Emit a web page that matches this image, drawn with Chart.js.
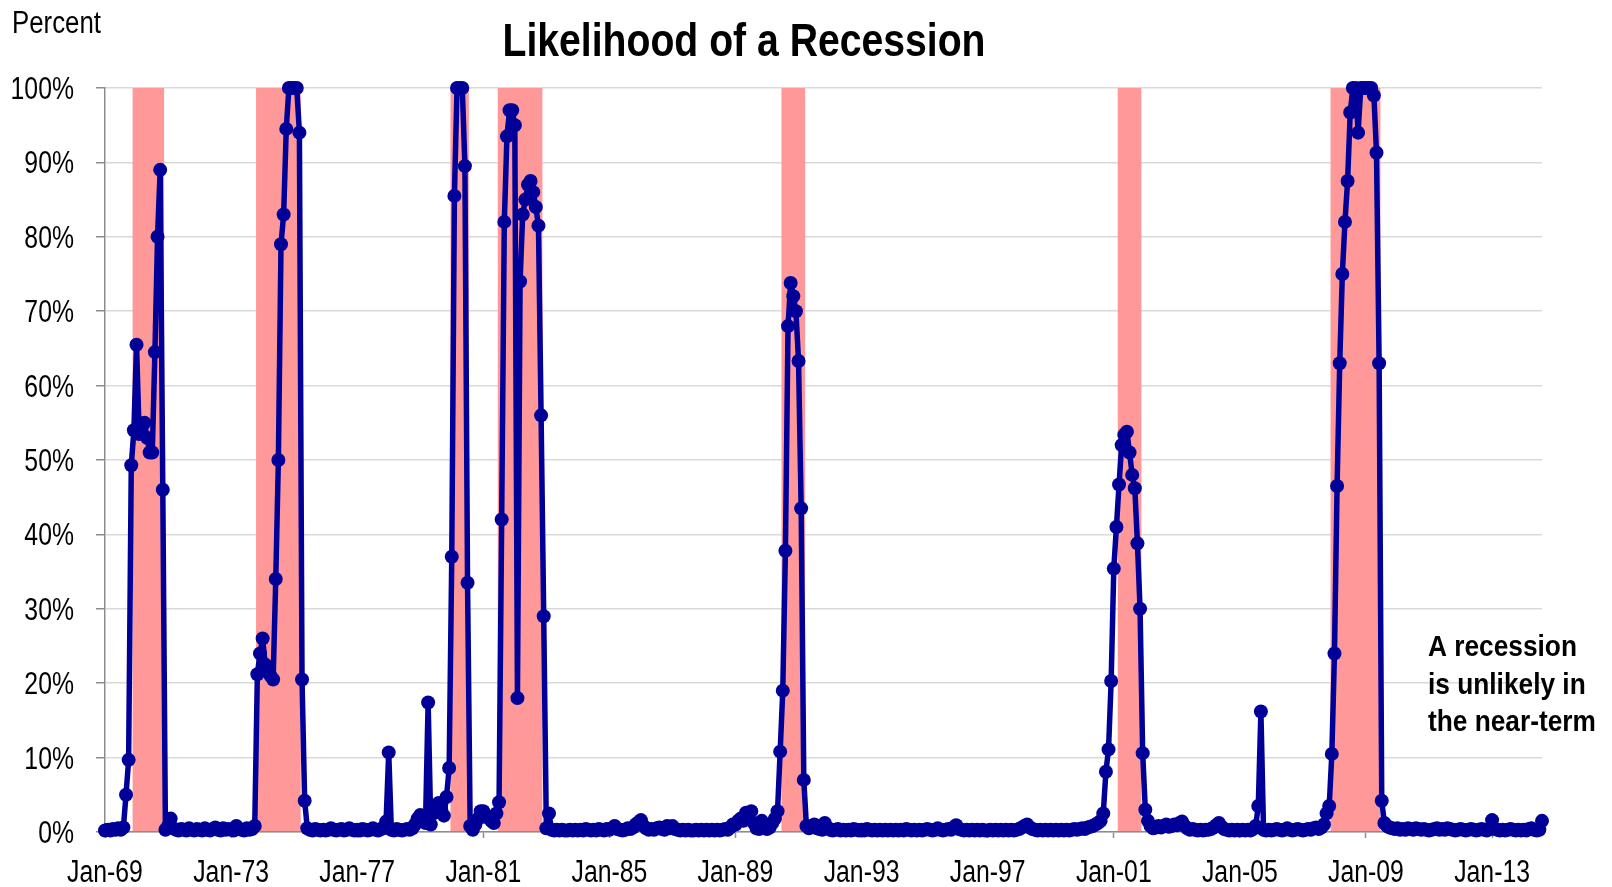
<!DOCTYPE html>
<html>
<head>
<meta charset="utf-8">
<title>Likelihood of a Recession</title>
<script src="https://cdn.jsdelivr.net/npm/chart.js@4.4.1/dist/chart.umd.min.js"></script>
<style>
  body { margin: 0; background: #fff; }
  #wrap { position: relative; width: 1612px; height: 887px; }
</style>
</head>
<body>
<div id="wrap"><canvas id="myChart"></canvas></div>
<script>
// 月ラベル (Jan-69 .. Aug-14)
var startYear = 1969;
var monthNames = ['Jan','Feb','Mar','Apr','May','Jun','Jul','Aug','Sep','Oct','Nov','Dec'];

// 景気後退確率 (%), 1年ごとに1行
var probability = [
  0.2, 0.3, 0.2, 0.4, 0.3, 0.5, 0.3, 0.6, 5.0, 9.7, 49.3, 54.0,        // 1969
  65.5, 53.5, 54.5, 55.0, 53.0, 51.0, 51.0, 64.5, 80.0, 89.0, 46.0, 0.3, // 1970
  0.8, 1.8, 0.5, 0.3, 0.2, 0.4, 0.3, 0.2, 0.5, 0.3, 0.2, 0.4,           // 1971
  0.3, 0.2, 0.5, 0.3, 0.2, 0.4, 0.6, 0.3, 0.2, 0.5, 0.3, 0.4,           // 1972
  0.3, 0.2, 0.8, 0.4, 0.3, 0.2, 0.5, 0.3, 0.4, 0.8, 21.2, 24.0,         // 1973
  26.0, 22.5, 21.5, 21.0, 20.5, 34.0, 50.0, 79.0, 83.0, 94.5, 100, 100, // 1974
  100, 100, 94.0, 20.5, 4.2, 0.5, 0.3, 0.2, 0.4, 0.3, 0.2, 0.3,         // 1975
  0.2, 0.3, 0.5, 0.3, 0.2, 0.3, 0.4, 0.2, 0.3, 0.5, 0.3, 0.2,           // 1976
  0.3, 0.2, 0.4, 0.3, 0.2, 0.3, 0.5, 0.3, 0.2, 0.4, 0.5, 1.4,           // 1977
  10.7, 0.3, 0.2, 0.4, 0.3, 0.2, 0.3, 0.4, 0.3, 0.5, 1.0, 1.8,          // 1978
  2.3, 1.5, 1.2, 17.4, 1.0, 2.5, 3.5, 3.9, 3.0, 2.2, 4.7, 8.6,          // 1979
  37.0, 85.5, 100, 100, 100, 89.5, 33.5, 0.8, 0.3, 1.0, 1.8, 2.8,       // 1980
  2.8, 2.0, 2.0, 1.5, 1.2, 2.5, 4.0, 42.0, 82.0, 93.5, 97.0, 97.0,      // 1981
  95.0, 18.0, 74.0, 83.0, 85.0, 87.0, 87.5, 86.0, 84.0, 81.5, 56.0, 29.0, // 1982
  0.5, 2.5, 0.3, 0.2, 0.3, 0.2, 0.3, 0.2, 0.2, 0.3, 0.2, 0.3,           // 1983
  0.2, 0.3, 0.2, 0.4, 0.3, 0.2, 0.3, 0.2, 0.4, 0.3, 0.2, 0.4,           // 1984
  0.3, 0.5, 0.8, 0.4, 0.3, 0.2, 0.3, 0.5, 0.4, 0.6, 1.0, 1.3,           // 1985
  1.6, 0.8, 0.5, 0.3, 0.4, 0.3, 0.5, 0.6, 0.4, 0.3, 0.8, 0.5,           // 1986
  0.8, 0.4, 0.3, 0.2, 0.3, 0.2, 0.3, 0.2, 0.2, 0.3, 0.2, 0.3,           // 1987
  0.2, 0.3, 0.2, 0.3, 0.2, 0.3, 0.2, 0.3, 0.4, 0.3, 0.6, 1.0,           // 1988
  1.0, 1.5, 1.8, 1.5, 2.6, 1.8, 2.8, 1.2, 0.5, 0.4, 1.5, 0.6,           // 1989
  0.4, 0.6, 1.2, 1.8, 2.8, 10.8, 19.0, 37.8, 68.0, 73.8, 72.0, 70.0,    // 1990
  63.3, 43.5, 7.0, 0.8, 0.5, 0.8, 1.0, 0.5, 0.4, 0.3, 1.2, 0.6,         // 1991
  0.3, 0.2, 0.3, 0.4, 0.2, 0.3, 0.2, 0.3, 0.2, 0.4, 0.3, 0.2,           // 1992
  0.3, 0.2, 0.4, 0.3, 0.2, 0.3, 0.2, 0.3, 0.2, 0.3, 0.2, 0.3,           // 1993
  0.2, 0.3, 0.2, 0.3, 0.2, 0.4, 0.3, 0.2, 0.3, 0.2, 0.3, 0.2,           // 1994
  0.3, 0.4, 0.3, 0.2, 0.3, 0.5, 0.3, 0.2, 0.3, 0.4, 0.3, 0.6,           // 1995
  0.9, 0.4, 0.3, 0.2, 0.3, 0.2, 0.3, 0.2, 0.3, 0.2, 0.3, 0.2,           // 1996
  0.2, 0.3, 0.2, 0.3, 0.2, 0.3, 0.2, 0.3, 0.2, 0.3, 0.2, 0.3,           // 1997
  0.4, 0.6, 0.8, 1.0, 0.6, 0.4, 0.3, 0.2, 0.3, 0.2, 0.3, 0.2,           // 1998
  0.3, 0.2, 0.3, 0.2, 0.3, 0.2, 0.3, 0.2, 0.3, 0.4, 0.3, 0.4,           // 1999
  0.5, 0.4, 0.6, 0.7, 0.8, 1.0, 1.2, 1.5, 2.5, 8.1, 11.1, 20.3,         // 2000
  35.4, 41.0, 46.7, 52.0, 53.4, 53.8, 51.0, 48.0, 46.2, 38.8, 30.0, 10.6, // 2001
  3.0, 1.5, 0.8, 0.5, 0.6, 0.8, 0.6, 0.8, 1.0, 0.7, 0.8, 1.0,           // 2002
  0.9, 1.2, 1.4, 0.8, 0.5, 0.3, 0.4, 0.3, 0.2, 0.3, 0.2, 0.3,           // 2003
  0.3, 0.4, 0.6, 0.9, 1.2, 0.7, 0.4, 0.3, 0.2, 0.3, 0.2, 0.3,           // 2004
  0.2, 0.3, 0.2, 0.3, 0.2, 0.4, 0.8, 3.5, 16.2, 0.3, 0.2, 0.3,          // 2005
  0.2, 0.3, 0.4, 0.3, 0.2, 0.3, 0.5, 0.3, 0.2, 0.3, 0.4, 0.3,           // 2006
  0.2, 0.3, 0.4, 0.3, 0.5, 0.6, 0.4, 0.6, 1.0, 2.5, 3.5, 10.5,          // 2007
  24.0, 46.5, 63.0, 75.0, 82.0, 87.5, 96.7, 100, 100, 94.0, 100, 100,   // 2008
  100, 100, 100, 99.0, 91.3, 63.0, 4.2, 1.2, 0.8, 0.6, 0.5, 0.4,        // 2009
  0.5, 0.3, 0.4, 0.3, 0.5, 0.4, 0.3, 0.5, 0.4, 0.3, 0.4, 0.3,           // 2010
  0.2, 0.3, 0.4, 0.5, 0.3, 0.4, 0.3, 0.5, 0.4, 0.3, 0.2, 0.3,           // 2011
  0.4, 0.3, 0.2, 0.3, 0.4, 0.3, 0.2, 0.3, 0.4, 0.3, 0.2, 0.4,           // 2012
  1.6, 0.4, 0.3, 0.2, 0.3, 0.2, 0.3, 0.4, 0.3, 0.2, 0.3, 0.2,           // 2013
  0.3, 0.2, 0.4, 0.5, 0.3, 0.2, 0.3, 1.5                                // 2014
];

// x軸の目盛ラベル
var tickLabels = ['Jan-69','Jan-73','Jan-77','Jan-81','Jan-85','Jan-89','Jan-93','Jan-97','Jan-01','Jan-05','Jan-09','Jan-13'];

// 景気後退期間 (NBER)
var recessionStart = ['Dec-69','Nov-73','Jan-80','Jul-81','Jul-90','Mar-01','Dec-07'];
var recessionEnd   = ['Nov-70','Mar-75','Jul-80','Nov-82','Mar-91','Nov-01','Jun-09'];

// y軸の目盛 (%)
var yTicks = [0,10,20,30,40,50,60,70,80,90,100];

var noteLines = ['A recession', 'is unlikely in', 'the near-term'];

var monthLabels = [];
for (var i = 0; i < probability.length; i++) {
  var yy = (startYear + Math.floor(i / 12)) % 100;
  monthLabels.push(monthNames[i % 12] + '-' + (yy < 10 ? '0' + yy : '' + yy));
}
var tickPositions = tickLabels.map(function(l){ return monthLabels.indexOf(l); });

var points = probability.map(function(v, i){ return { x: i, y: v }; });

// Arial Narrow が無いので Liberation Sans を横に縮めて描く
var FONT = '"Liberation Sans", Arial, sans-serif';
var NARROW = 0.8;

function narrowText(ctx, text, x, y, align, sx) {
  ctx.save();
  ctx.translate(x, y);
  ctx.scale(sx, 1);
  ctx.textAlign = align;
  ctx.fillText(text, 0, 0);
  ctx.restore();
}

// 幅を合わせて縮める
function fitText(ctx, text, x, y, align, width) {
  var w = ctx.measureText(text).width;
  narrowText(ctx, text, x, y, align, width / w);
}

var recessionBands = {
  id: 'recessionBands',
  beforeDatasetsDraw: function(chart) {
    var ctx = chart.ctx, xs = chart.scales.x, ys = chart.scales.y;
    ctx.save();
    ctx.fillStyle = '#ff9999';
    for (var i = 0; i < recessionStart.length; i++) {
      var s = monthLabels.indexOf(recessionStart[i]);
      var e = monthLabels.indexOf(recessionEnd[i]);
      var x1 = xs.getPixelForValue(s - 0.5);
      var x2 = xs.getPixelForValue(e + 0.5);
      var y1 = ys.getPixelForValue(100);
      var y2 = ys.getPixelForValue(0) - 1;
      ctx.fillRect(x1, y1, x2 - x1, y2 - y1);
    }
    ctx.restore();
  }
};

var chartTexts = {
  id: 'chartTexts',
  afterDraw: function(chart) {
    var ctx = chart.ctx, xs = chart.scales.x, ys = chart.scales.y;
    ctx.save();
    ctx.fillStyle = '#000';
    ctx.textBaseline = 'alphabetic';

    // 目盛ラベル
    ctx.font = '31px ' + FONT;
    ys.ticks.forEach(function(t) {
      narrowText(ctx, t.value + '%', 74, ys.getPixelForValue(t.value) + 11, 'right', NARROW);
    });
    xs.ticks.forEach(function(t) {
      narrowText(ctx, monthLabels[t.value], xs.getPixelForValue(t.value), 882, 'center', NARROW);
    });

    // タイトル
    ctx.font = 'bold 47px ' + FONT;
    fitText(ctx, 'Likelihood of a Recession', 744, 56, 'center', 483);

    // 単位
    ctx.font = '31px ' + FONT;
    fitText(ctx, 'Percent', 12, 33, 'left', 89);

    // 注記
    ctx.font = 'bold 30px ' + FONT;
    var sx = 157.7 / ctx.measureText(noteLines[1]).width;
    for (var i = 0; i < noteLines.length; i++) {
      narrowText(ctx, noteLines[i], 1428, 656 + i * 37.7, 'left', sx);
    }
    ctx.restore();
  }
};

var ctx = document.getElementById('myChart').getContext('2d');
var chart = new Chart(ctx, {
  type: 'line',
  data: {
    datasets: [{
      label: 'Likelihood of a Recession',
      data: points,
      borderColor: '#000099',
      backgroundColor: '#000099',
      borderWidth: 5.5,
      borderJoinStyle: 'round',
      borderCapStyle: 'round',
      pointRadius: 7,
      pointBackgroundColor: '#000099',
      pointBorderWidth: 0,
      pointHoverRadius: 7,
      tension: 0,
      fill: false,
      clip: false
    }]
  },
  options: {
    responsive: true,
    maintainAspectRatio: false,
    animation: false,
    events: [],
    layout: { padding: { top: 88, right: 70, bottom: 0, left: 0 } },
    plugins: {
      legend: { display: false },
      title: { display: false },
      tooltip: { enabled: false }
    },
    scales: {
      x: {
        type: 'linear',
        min: 0,
        max: probability.length - 1,
        afterFit: function(scale) { scale.height = 55; },
        afterBuildTicks: function(scale) {
          scale.ticks = tickPositions.map(function(v){ return { value: v }; });
        },
        ticks: {
          display: false,
          autoSkip: false,
          maxRotation: 0,
          callback: function(v) { return monthLabels[v]; }
        },
        grid: {
          display: true,
          drawOnChartArea: false,
          tickLength: 6,
          tickColor: '#8c8c8c',
          tickWidth: 1.5
        },
        border: { display: true, color: '#8c8c8c', width: 1.5 }
      },
      y: {
        min: 0,
        max: 100,
        afterFit: function(scale) { scale.width = 105; },
        afterBuildTicks: function(scale) {
          scale.ticks = yTicks.map(function(v){ return { value: v }; });
        },
        ticks: {
          display: false,
          callback: function(v) { return v + '%'; }
        },
        grid: {
          color: '#d9d9d9',
          lineWidth: 1.5,
          tickLength: 9,
          tickColor: '#8c8c8c',
          tickWidth: 1.5
        },
        border: { display: true, color: '#8c8c8c', width: 1.5 }
      }
    }
  },
  plugins: [recessionBands, chartTexts]
});
</script>
</body>
</html>
